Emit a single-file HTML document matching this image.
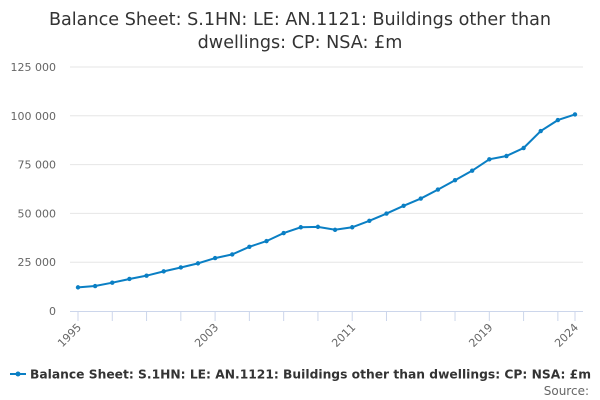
<!DOCTYPE html>
<html><head><meta charset="utf-8"><style>
body{margin:0;background:#fff;font-family:"DejaVu Sans","Liberation Sans",sans-serif;}
svg{display:block}
</style></head><body>
<svg id="chart" width="600" height="400">
<text x="300" y="25" text-anchor="middle" font-size="17.6" fill="#333">Balance Sheet: S.1HN: LE: AN.1121: Buildings other than</text>
<text x="300" y="48" text-anchor="middle" font-size="17.6" fill="#333">dwellings: CP: NSA: £m</text>
<g id="grid"></g><g id="xaxis"></g><g id="series"></g>
<g>
<line x1="10" y1="374" x2="26" y2="374" stroke="#0a7fc4" stroke-width="2"/>
<circle cx="18" cy="374" r="2.5" fill="#0a7fc4"/>
<text x="30" y="378.5" font-size="12" font-weight="bold" fill="#333" textLength="561" lengthAdjust="spacingAndGlyphs">Balance Sheet: S.1HN: LE: AN.1121: Buildings other than dwellings: CP: NSA: £m</text>
</g>
<text x="589" y="395" text-anchor="end" font-size="12" fill="#666">Source:</text>
</svg>
<script>
const years=[1995,1996,1997,1998,1999,2000,2001,2002,2003,2004,2005,2006,2007,2008,2009,2010,2011,2012,2013,2014,2015,2016,2017,2018,2019,2020,2021,2022,2023,2024];
const values=[12100,12800,14500,16400,18100,20300,22300,24400,27100,29000,32900,35800,39900,42900,43100,41600,42900,46200,49900,53900,57600,62200,67000,71900,77700,79400,83500,92200,97800,100700];
const yTicks=[0,25000,50000,75000,100000,125000];
const yTickLabels=["0","25 000","50 000","75 000","100 000","125 000"];
const xLabelYears=[1995,2003,2011,2019,2024];
const NS="http://www.w3.org/2000/svg";
const X=y=>78+(y-1995)*(575-78)/(2024-1995);
const Y=v=>311-v*(311-67)/125000;
function mk(tag,attrs,parent){const e=document.createElementNS(NS,tag);for(const k in attrs)e.setAttribute(k,attrs[k]);parent.appendChild(e);return e;}
const grid=document.getElementById('grid'),xa=document.getElementById('xaxis'),ser=document.getElementById('series');
yTicks.forEach((t,i)=>{
 if(t>0){const l=mk('line',{x1:70,x2:583,y1:Y(t),y2:Y(t),stroke:'#e6e6e6','stroke-width':1},grid);
 
 }
 const tx=mk('text',{x:56,y:Y(t)+4,'text-anchor':'end','font-size':11,fill:'#666'},grid);tx.textContent=yTickLabels[i];
 
 
});
const ax=mk('line',{x1:70,x2:583,y1:311.5,y2:311.5,stroke:'#ccd6eb','stroke-width':1},xa);


for(let yr=1995;yr<=2024;yr+=2){const tk=mk('line',{x1:X(yr),x2:X(yr),y1:311,y2:321,stroke:'#ccd6eb'},xa);
 
 }
const tk2=mk('line',{x1:X(2024),x2:X(2024),y1:311,y2:321,stroke:'#ccd6eb'},xa);


xLabelYears.forEach(yr=>{const t=mk('text',{x:X(yr)+4,y:328,'text-anchor':'end','font-size':11,fill:'#666',transform:`rotate(-45 ${X(yr)+4} 328)`},xa);t.textContent=yr;
 
 });
const pts=years.map((y,i)=>X(y)+','+Y(values[i])).join(' ');
const pl=mk('polyline',{points:pts,fill:'none',stroke:'#0a7fc4','stroke-width':2},ser);


years.forEach((y,i)=>{const c=mk('circle',{cx:X(y),cy:Y(values[i]),r:2.2,fill:'#0a7fc4'},ser);
 
 });
</script>
</body></html>
